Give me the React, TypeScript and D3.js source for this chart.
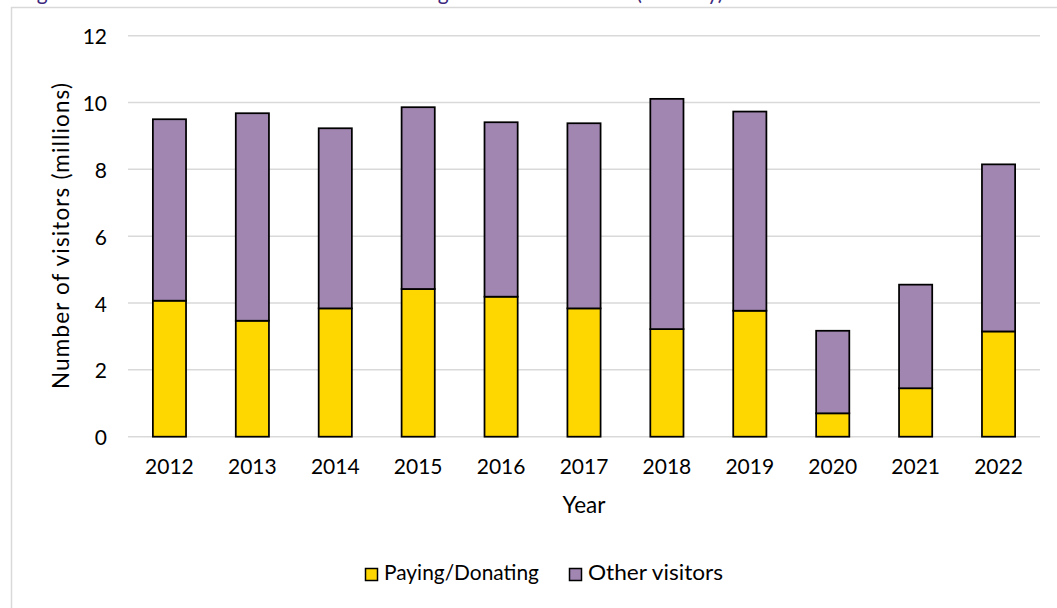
import React from "react";
import * as d3 from "d3";

const years = ["2012", "2013", "2014", "2015", "2016", "2017", "2018", "2019", "2020", "2021", "2022"];
const paying = [4.07, 3.47, 3.84, 4.42, 4.19, 3.84, 3.22, 3.77, 0.7, 1.45, 3.15];
const totals = [9.5, 9.68, 9.23, 9.86, 9.41, 9.38, 10.11, 9.73, 3.17, 4.55, 8.15];
const other = totals.map((t, i) => t - paying[i]);
const yTicks = [0, 2, 4, 6, 8, 10, 12];
const seriesNames = ["Paying/Donating", "Other visitors"];
const seriesColors = ["#FFD700", "#A086B0"];
const titleText = "Figure 3: Number of visitors to museums and galleries in the North (annually)";

const W = 1057;
const H = 608;
const FONT = "Lato, 'Open Sans', sans-serif";

export default function App() {
  const x = d3.scaleBand<string>().domain(years).range([128, 1040]).paddingInner(0.6).paddingOuter(0.3);
  const y = d3.scaleLinear().domain([0, 12]).range([436.7, 35.7]);

  const rows = years.map((yr, i) => ({ year: yr, paying: paying[i], other: other[i] }));
  const stack = d3.stack<any>().keys(["paying", "other"])(rows);

  return (
    <svg
      width={W}
      height={H}
      style={{ position: "absolute", left: 0, top: 0, background: "#fff" }}
      fontFamily={FONT}
    >
      <text x={20} y={0} fontSize={21} fill="#3C2A7E">
        {titleText}
      </text>
      <path d={`M11.5,${H + 5} V7.5 H${W + 5}`} fill="none" stroke="#D9D9D9" strokeWidth={1.5} />

      {yTicks.map((t) => (
        <g key={t}>
          <line x1={128} x2={1040} y1={y(t)} y2={y(t)} stroke="#D9D9D9" strokeWidth={1.5} />
          <text x={107} y={y(t)} textAnchor="end" dominantBaseline="central" fontSize={21} fill="#000">
            {t}
          </text>
        </g>
      ))}

      {stack.map((layer, si) => (
        <g key={si}>
          {layer.map((d, i) => (
            <rect
              key={i}
              x={x(years[i])}
              width={x.bandwidth()}
              y={y(d[1])}
              height={y(d[0]) - y(d[1])}
              fill={seriesColors[si]}
              stroke="#000"
              strokeWidth={1.75}
            />
          ))}
        </g>
      ))}

      {years.map((yr) => (
        <text key={yr} x={(x(yr) as number) + x.bandwidth() / 2} y={474} textAnchor="middle" fontSize={21}>
          {yr}
        </text>
      ))}

      <text x={584} y={513} textAnchor="middle" fontSize={22.5}>
        Year
      </text>
      <text
        transform={`translate(60,236) rotate(-90)`}
        textAnchor="middle"
        dominantBaseline="central"
        fontSize={22.5}
        textLength={306}
        lengthAdjust="spacing"
      >
        Number of visitors (millions)
      </text>

      <g>
        <rect x={365.5} y={568.5} width={12} height={12} fill={seriesColors[0]} stroke="#000" strokeWidth={1.5} />
        <text x={384} y={580} fontSize={21.5} textLength={155} lengthAdjust="spacingAndGlyphs">
          {seriesNames[0]}
        </text>
        <rect x={569.5} y={568.5} width={12} height={12} fill={seriesColors[1]} stroke="#000" strokeWidth={1.5} />
        <text x={588} y={580} fontSize={21.5} textLength={135} lengthAdjust="spacingAndGlyphs">
          {seriesNames[1]}
        </text>
      </g>
    </svg>
  );
}
